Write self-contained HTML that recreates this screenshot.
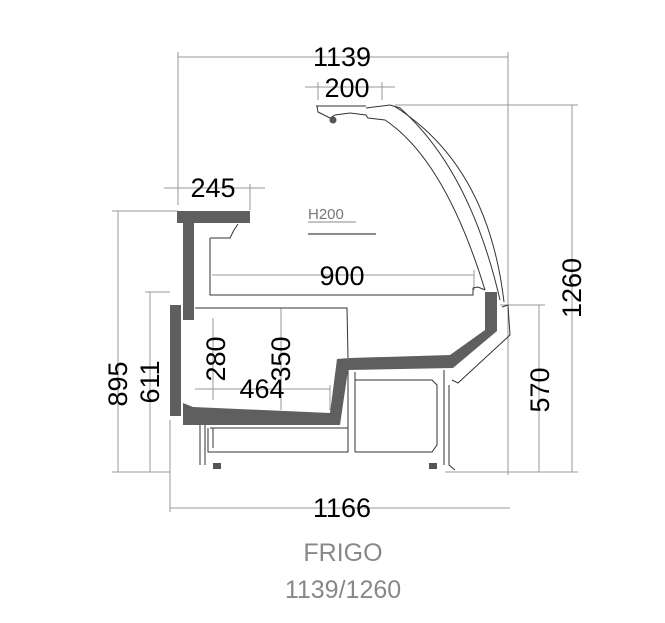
<!DOCTYPE html>
<html><head><meta charset="utf-8"><style>
html,body{margin:0;padding:0;background:#fff;}
svg{display:block;}
text{font-family:"Liberation Sans",sans-serif;}
</style></head><body>
<svg width="665" height="623" viewBox="0 0 665 623" xmlns="http://www.w3.org/2000/svg">
<g stroke="#999" stroke-width="1" fill="none">
  <line x1="178" y1="57" x2="508" y2="57"/>
  <line x1="178" y1="52" x2="178" y2="205"/>
  <line x1="508" y1="52" x2="508" y2="475"/>
  <line x1="305" y1="87" x2="395" y2="87"/>
  <line x1="318" y1="82" x2="318" y2="100"/>
  <line x1="382" y1="82" x2="382" y2="100"/>
  <line x1="164" y1="188" x2="265" y2="188"/>
  <line x1="250" y1="184" x2="250" y2="210"/>
  <line x1="395" y1="105" x2="578" y2="105"/>
  <line x1="572" y1="105" x2="572" y2="472"/>
  <line x1="112" y1="211" x2="178" y2="211"/>
  <line x1="118" y1="211" x2="118" y2="472"/>
  <line x1="145" y1="292" x2="170" y2="292"/>
  <line x1="150" y1="292" x2="150" y2="472"/>
  <line x1="112" y1="472" x2="170" y2="472"/>
  <line x1="500" y1="305" x2="545" y2="305"/>
  <line x1="539" y1="305" x2="539" y2="472"/>
  <line x1="445" y1="472" x2="578" y2="472"/>
  <line x1="170" y1="420" x2="170" y2="512"/>
  <line x1="170" y1="508" x2="510" y2="508"/>
  <line x1="212" y1="275" x2="474" y2="275"/>
  <line x1="474" y1="270" x2="474" y2="290"/>
  <line x1="213" y1="318" x2="213" y2="400"/>
  <line x1="281" y1="308" x2="281" y2="410"/>
  <line x1="195" y1="389" x2="330" y2="389"/>
  <line x1="330" y1="385" x2="330" y2="410"/>
</g>
<g stroke="#333" stroke-width="1" fill="none">
  <path d="M210 238 L210 295 L473 295 L473 288 L478 287 L485 290"/>
  <path d="M210 238 L230 238 L234 230 L238 224"/>
  <path d="M195 308 L347 308 L348 358"/>
  <path d="M317 106 L318 112 L330 118 L335 115 L350 113 L366 115 L368 118 L385 120 Q445 160 485 290"/>
  <path d="M366 108 L390 105 L400 108 Q470 170 500 300"/>
  <path d="M394 106 Q488 165 504 302"/>
  <path d="M316 106 L366 106"/>
  <path d="M502 307 L508 305 L510 335 L458 383 L452 380"/>
  <path d="M348 370 L348 452 L208 452 L208 428 M213 428 L213 448 M348 428 L210 428 M355 372 L355 452"/>
  <path d="M355 380 L432 380 L437 385 L437 445 L432 452 L355 452"/>
  <path d="M444 370 L444 465 M449 385 L449 465 L455 470"/>
  <path d="M200 425 L200 465 M205 425 L205 465"/>
</g>
<g fill="#555">
  <rect x="213" y="463" width="8" height="6"/>
  <rect x="429" y="463" width="8" height="6"/>
  <circle cx="333" cy="120" r="3.5"/>
</g>
<g fill="#5f5f60">
  <rect x="177" y="211" width="73" height="12"/>
  <rect x="183" y="223" width="11" height="97"/>
  <rect x="170" y="305" width="11" height="111"/>
  <path d="M183 403 L193 407 L330 413 L337 359 L350 358 L450 355 L485 330 L485 292 L497 292 L497 331 L453 368 L348 370 L340 425 L183 425 Z"/>
</g>
<g fill="#000" font-size="27">
  <text x="342" y="66" text-anchor="middle">1139</text>
  <text x="347" y="97" text-anchor="middle">200</text>
  <text x="213" y="197" text-anchor="middle">245</text>
  <text x="342" y="285" text-anchor="middle">900</text>
  <text x="262" y="398" text-anchor="middle">464</text>
  <text x="342" y="517" text-anchor="middle">1166</text>
  <text transform="translate(581,288) rotate(-90)" text-anchor="middle">1260</text>
  <text transform="translate(549,390) rotate(-90)" text-anchor="middle">570</text>
  <text transform="translate(127,384) rotate(-90)" text-anchor="middle">895</text>
  <text transform="translate(159,382) rotate(-90)" text-anchor="middle">611</text>
  <text transform="translate(225,359) rotate(-90)" text-anchor="middle">280</text>
  <text transform="translate(290,359) rotate(-90)" text-anchor="middle">350</text>
</g>
<text x="308" y="219" font-size="15" fill="#777">H200</text>
<line x1="308" y1="222" x2="356" y2="222" stroke="#888"/>
<line x1="308" y1="234" x2="376" y2="234" stroke="#666" stroke-width="1.5"/>
<text x="343" y="561" font-size="25" fill="#888" text-anchor="middle">FRIGO</text>
<text x="343" y="598" font-size="25" fill="#888" text-anchor="middle">1139/1260</text>
</svg>
</body></html>
